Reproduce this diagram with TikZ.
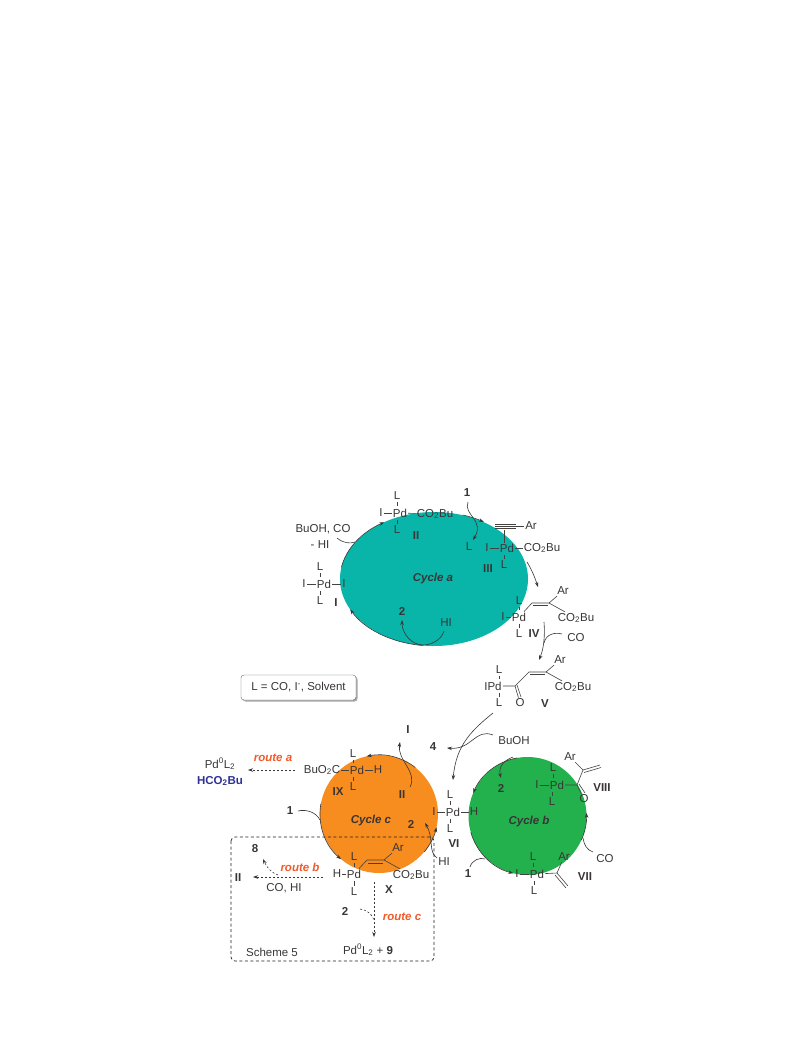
\documentclass[tikz,border=0pt]{standalone}
\usepackage{fontspec}
\setmainfont{Liberation Sans}
\usepackage{xcolor}
\usetikzlibrary{arrows.meta,shapes.geometric,shadows}
\definecolor{cyateal}{HTML}{09B4A9}
\definecolor{cycorange}{HTML}{F78D1E}
\definecolor{cycgreen}{HTML}{22B14C}
\definecolor{inkgray}{HTML}{231F20}
\definecolor{routered}{HTML}{F15A29}
\definecolor{estblue}{HTML}{2E3192}
\tikzset{
every node/.style={font=\fontsize{11.5}{13}\selectfont,inner sep=1pt,text=inkgray!90},
cmpd/.style={font=\fontsize{11.5}{13}\selectfont\bfseries},
cyclbl/.style={font=\fontsize{11.5}{13}\selectfont\bfseries\itshape},
routelbl/.style={font=\fontsize{11.5}{13}\selectfont\bfseries\itshape,text=routered},
cycfill/.style={circle,minimum size=118pt,inner sep=0pt,outer sep=0pt},
bond/.style={draw=inkgray!85,line width=0.6pt},
ticklne/.style={bond,shorten <=1pt,shorten >=1.5pt},
arw/.style={draw=inkgray!90,line width=0.6pt,-{Stealth[length=5pt,width=3.5pt]}},
plainarw/.style={draw=inkgray!90,line width=0.6pt},
dasharw/.style={arw,dashed,dash pattern=on 2pt off 2pt}
}
\begin{document}
\begin{tikzpicture}[x=1pt,y=-1pt]
\useasboundingbox (0,0) rectangle (793,1057);
\node[ellipse,fill=cyateal,minimum width=188pt,minimum height=134pt,inner sep=0pt,outer sep=0pt] (cyca) at (434,579) {};
\node[cycfill,fill=cycorange] (cycc) at (379,814) {};
\node[cycfill,fill=cycgreen] (cycb) at (527.5,816) {};
\node[cyclbl] (lblcyca) at (433,579) {Cycle a};
\node[cyclbl] (lblcycb) at (529,822) {Cycle b};
\node[cyclbl] (lblcycc) at (371,821) {Cycle c};

\node (i1) at (304,584) {I};
\node (pd1) at (324,584) {Pd};
\node (i1r) at (344,584) {I};
\node (l1a) at (320,567) {L};
\node (l1b) at (320,601) {L};
\node[cmpd] (lbl1) at (336,603) {I};
\draw[bond] (i1)--(pd1);
\draw[bond] (pd1)--(i1r);
\draw[ticklne] (l1a)--(l1a|-pd1.north);
\draw[ticklne] (l1b)--(l1b|-pd1.south);

\node (i2) at (381,513) {I};
\node (pd2) at (400,513) {Pd};
\node (co2) at (435,514) {CO\textsubscript{2}Bu};
\node (l2a) at (397,496) {L};
\node (l2b) at (397,530) {L};
\node[cmpd] (lbl2) at (416,536) {II};
\draw[bond] (i2)--(pd2);
\draw[bond] (pd2)--(co2);
\draw[ticklne] (l2a)--(l2a|-pd2.north);
\draw[ticklne] (l2b)--(l2b|-pd2.south);

\node (buoh) at (323,529) {BuOH, CO};
\node (mhi) at (320,545) {- HI};
\node[cmpd] (n1a) at (467,493) {1};
\node (arthr) at (531,526) {Ar};
\node (lfree) at (469,547) {L};
\node (i3) at (487,548) {I};
\node (pd3) at (507,548) {Pd};
\node (co3) at (542,548) {CO\textsubscript{2}Bu};
\node (l3) at (504,565) {L};
\node[cmpd] (lbl3) at (488,569) {III};
\draw (495,524) coordinate (tb1a);
\draw (516,524) coordinate (tb1b);
\draw (495,526) coordinate (tb2a);
\draw (495,528) coordinate (tb3a);
\draw (516,528) coordinate (tb3b);
\draw[bond] (tb1a)--(tb1b);
\draw[bond] (tb2a)--(arthr);
\draw[bond] (tb3a)--(tb3b);
\draw (504,530) coordinate (tbdown);
\draw[bond] (tbdown)--(tbdown|-pd3.north);
\draw[bond] (i3)--(pd3);
\draw[bond] (pd3)--(co3);
\draw[ticklne] (l3)--(l3|-pd3.south);

\node (l4a) at (519,601) {L};
\node (i4) at (503,617) {I};
\node (pd4) at (519,617) {Pd};
\node (l4b) at (519,634) {L};
\node[cmpd] (lbl4) at (534,634) {IV};
\node (ar4) at (563,591) {Ar};
\node (co4) at (576,618) {CO\textsubscript{2}Bu};
\draw (532,603) coordinate (v4a);
\draw (549,603) coordinate (v4b);
\draw (533,605.5) coordinate (v4c);
\draw (548,605.5) coordinate (v4d);
\draw[bond] (pd4)--(v4a)--(v4b)--(ar4);
\draw[bond] (v4c)--(v4d);
\draw[bond] (v4b)--(co4);
\draw[bond] (i4)--(pd4);
\draw[ticklne] (l4a)--(l4a|-pd4.north);
\draw[ticklne] (l4b)--(l4b|-pd4.south);

\node (co4g) at (576,638) {CO};
\node (lv1) at (499,670) {L};
\node (ipd5) at (493,686) {IPd};
\node (lv2) at (499,703) {L};
\node (ar5) at (560,660) {Ar};
\node (co5) at (573,687) {CO\textsubscript{2}Bu};
\node (o5) at (520,703) {O};
\node[cmpd] (lbl5) at (545,704) {V};
\draw (515,686) coordinate (c5);
\draw (529,672) coordinate (v5a);
\draw (546,672) coordinate (v5b);
\draw (530,674.5) coordinate (v5c);
\draw (545,674.5) coordinate (v5d);
\draw (517,685) coordinate (c5r);
\draw (521,697) coordinate (c5s);
\draw[bond] (ipd5)--(c5)--(v5a)--(v5b)--(ar5);
\draw[bond] (v5c)--(v5d);
\draw[bond] (v5b)--(co5);
\draw[bond] (c5)--(o5);
\draw[bond] (c5r)--(c5s);
\draw[ticklne] (lv1)--(lv1|-ipd5.north);
\draw[ticklne] (lv2)--(lv2|-ipd5.south);

\node (hi1) at (446,623) {HI};
\node[cmpd] (n2a) at (402,611) {2};
\node[draw=inkgray!70,rounded corners=3pt,fill=white,inner sep=0pt,minimum width=115pt,minimum height=25pt,drop shadow={shadow xshift=1.5pt,shadow yshift=-1.5pt,fill=gray!70,opacity=1}] (lbox) at (298.5,687.5) {L = CO, I\textsuperscript{-}, Solvent};

\node[cmpd] (lbl1b) at (408,730) {I};
\node[cmpd] (n4) at (433,747) {4};
\node (buoh2) at (514,741) {BuOH};
\node[cmpd] (n2b) at (501,788) {2};

\node (l6a) at (450,795) {L};
\node (i6) at (434,812) {I};
\node (pd6) at (453,812) {Pd};
\node (h6) at (474,812) {H};
\node (l6b) at (450,829) {L};
\node[cmpd] (lbl6) at (454,844) {VI};
\draw[bond] (i6)--(pd6);
\draw[bond] (pd6)--(h6);
\draw[ticklne] (l6a)--(l6a|-pd6.north);
\draw[ticklne] (l6b)--(l6b|-pd6.south);

\node (l8a) at (553,768) {L};
\node (i8) at (537,785) {I};
\node (pd8) at (557,785) {Pd};
\node (l8b) at (552,802) {L};
\node (o8) at (584,799) {O};
\node (ar8) at (570,757) {Ar};
\node[cmpd] (lbl8) at (602,788) {VIII};
\draw (577,785) coordinate (c8);
\draw (583,770) coordinate (v8a);
\draw (600,765) coordinate (v8b);
\draw (584,772.5) coordinate (v8c);
\draw (601,767.5) coordinate (v8d);
\draw (579,784) coordinate (c8r);
\draw (585,793) coordinate (c8s);
\draw[bond] (i8)--(pd8);
\draw[bond] (pd8)--(c8)--(v8a)--(v8b);
\draw[bond] (v8c)--(v8d);
\draw[bond] (v8a)--(ar8);
\draw[bond] (c8)--(o8);
\draw[bond] (c8r)--(c8s);
\draw[ticklne] (l8a)--(l8a|-pd8.north);
\draw[ticklne] (l8b)--(l8b|-pd8.south);

\node (co7g) at (605,859) {CO};
\node[cmpd] (n1c) at (468,874) {1};
\node (l7a) at (533,857) {L};
\node (i7) at (517,874) {I};
\node (pd7) at (537,874) {Pd};
\node (l7b) at (534,891) {L};
\node (ar7) at (564,857) {Ar};
\node[cmpd] (lbl7) at (585,877) {VII};
\draw (557,873) coordinate (v7a);
\draw (568,886) coordinate (v7b);
\draw (555,875) coordinate (v7c);
\draw (566,888) coordinate (v7d);
\draw[bond] (i7)--(pd7);
\draw[bond] (pd7)--(v7a)--(ar7);
\draw[bond] (v7a)--(v7b);
\draw[bond] (v7c)--(v7d);
\draw[ticklne] (l7a)--(l7a|-pd7.north);
\draw[ticklne] (l7b)--(l7b|-pd7.south);

\node (pd0a) at (220,764) {Pd\textsuperscript{0}L\textsubscript{2}};
\node[cmpd,text=estblue] (hco) at (220,781) {HCO\textsubscript{2}Bu};
\node[routelbl] (routea) at (273,758) {route a};
\node (bu9) at (322,770) {BuO\textsubscript{2}C};
\node (pd9) at (357,770) {Pd};
\node (h9) at (378,770) {H};
\node (l9a) at (353,754) {L};
\node (l9b) at (353,787) {L};
\node[cmpd] (lbl9) at (338,792) {IX};
\node[cmpd] (lbl2c) at (402,795) {II};
\node[cmpd] (n1b) at (290,811) {1};
\node[cmpd] (n2c) at (411,824) {2};
\draw[bond] (bu9)--(pd9);
\draw[bond] (pd9)--(h9);
\draw[ticklne] (l9a)--(l9a|-pd9.north);
\draw[ticklne] (l9b)--(l9b|-pd9.south);

\node (hi2) at (444,862) {HI};
\node[cmpd] (n8) at (255,849) {8};
\node[cmpd] (lbl2b) at (238,878) {II};
\node[routelbl] (routeb) at (300,867) {route b};
\node (cohi) at (284,888) {CO, HI};
\node (h10) at (337,874) {H};
\node (pd10) at (354,874) {Pd};
\node (l10a) at (354,857) {L};
\node (l10b) at (354,892) {L};
\node (ar10) at (398,848) {Ar};
\node (co10) at (411,875) {CO\textsubscript{2}Bu};
\node[cmpd] (lbl10) at (389,890) {X};
\node[routelbl] (routec) at (402,917) {route c};
\node[cmpd] (n2d) at (345,911) {2};
\node (pd0b) at (368,950) {Pd\textsuperscript{0}L\textsubscript{2} + \textbf{9}};
\node (sch5) at (272,952) {Scheme 5};
\draw (367,860) coordinate (v10a);
\draw (384,860) coordinate (v10b);
\draw (368,863) coordinate (v10c);
\draw (383,863) coordinate (v10d);
\draw[bond] (h10)--(pd10);
\draw[bond] (pd10)--(v10a)--(v10b)--(ar10);
\draw[bond] (v10c)--(v10d);
\draw[bond] (v10b)--(co10);
\draw[ticklne] (l10a)--(l10a|-pd10.north);
\draw[ticklne] (l10b)--(l10b|-pd10.south);

\draw (231,837) coordinate (boxa);
\draw (434,961) coordinate (boxb);
\draw[inkgray,line width=0.7pt,dashed,dash pattern=on 3pt off 2.5pt,rounded corners=4pt] (boxa) rectangle (boxb);

\draw (341.4,567.4) coordinate (aa1);
\draw (422.5,645.5) coordinate (aa3);
\draw (463,515) coordinate (aa5);
\draw[arw] (aa1) arc[start angle=170,end angle=122,x radius=94pt,y radius=67pt];
\draw[arw] (aa3) arc[start angle=263,end angle=207,x radius=94pt,y radius=67pt];
\draw[arw] (aa5) arc[start angle=72,end angle=58,x radius=94pt,y radius=67pt];
\draw (337,538) coordinate (ba1);
\draw (355,542) coordinate (ba2);
\draw[plainarw] (ba1) .. controls (343,543) and (350,544) .. (ba2);
\draw (468,502) coordinate (oa1);
\draw (473,540) coordinate (oa2);
\draw[arw] (oa1) .. controls (463,515) and (485,520) .. (oa2);
\draw (444,631) coordinate (hia1);
\draw (423,645) coordinate (hia2);
\draw (402,620) coordinate (hia3);
\draw[arw] (hia1) .. controls (441,641) and (430,645) .. (hia2) .. controls (412,645) and (402,634) .. (hia3);
\draw (527,562) coordinate (sa1);
\draw (538,587) coordinate (sa2);
\draw[arw] (sa1) .. controls (532,570) and (535,578) .. (sa2);
\draw (544,622) coordinate (sb1);
\draw (539,660) coordinate (sb2);
\draw (562,634) coordinate (sb3);
\draw (544,643) coordinate (sb4);
\draw[arw] (sb1) .. controls (545,635) and (544,648) .. (sb2);
\draw[plainarw] (sb3) .. controls (555,632) and (546,634) .. (sb4);
\draw (493,713) coordinate (sc1);
\draw (453,780) coordinate (sc2);
\draw[arw] (sc1) .. controls (472,730) and (456,745) .. (sc2);
\draw (493,735) coordinate (sd1);
\draw (447,748) coordinate (sd2);
\draw[arw] (sd1) .. controls (475,728) and (472,750) .. (sd2);
\draw (513,757) coordinate (se1);
\draw (501,778) coordinate (se2);
\draw[arw] (se1) .. controls (505,760) and (498,766) .. (se2);

\draw[arw] (cycb.100) arc[start angle=100,end angle=157,radius=59pt];
\draw[arw] (cycb.196) arc[start angle=196,end angle=256,radius=59pt];
\draw[arw] (cycb.-24) arc[start angle=-24,end angle=3,radius=59pt];
\draw (593,852) coordinate (cob1);
\draw (583,838) coordinate (cob2);
\draw[plainarw] (cob1) .. controls (587,850) and (584,845) .. (cob2);
\draw (470,867) coordinate (ob1);
\draw (485,859) coordinate (ob2);
\draw[plainarw] (ob1) .. controls (472,860) and (480,857) .. (ob2);

\draw[arw] (cycc.52) arc[start angle=52,end angle=102,radius=59pt];
\draw[arw] (cycc.170) arc[start angle=170,end angle=230,radius=59pt];
\draw[arw] (cycc.-40) arc[start angle=-40,end angle=-13,radius=59pt];
\draw (410,787) coordinate (ic1);
\draw (400,742) coordinate (ic2);
\draw[arw] (ic1) .. controls (418,772) and (397,760) .. (ic2);
\draw (298,811) coordinate (oc1);
\draw (320,820) coordinate (oc2);
\draw[plainarw] (oc1) .. controls (306,809) and (316,812) .. (oc2);
\draw (437,858) coordinate (hic1);
\draw (425,823) coordinate (hic2);
\draw[arw] (hic1) .. controls (428,852) and (434,838) .. (hic2);

\draw (295,770) coordinate (ra1);
\draw (248,770) coordinate (ra2);
\draw[dasharw] (ra1)--(ra2);
\draw (323,877) coordinate (rb1);
\draw (253,877) coordinate (rb2);
\draw[dasharw] (rb1)--(rb2);
\draw (278,875) coordinate (rb3);
\draw (263,859) coordinate (rb4);
\draw[dasharw] (rb3) .. controls (272,873) and (267,868) .. (rb4);
\draw (374,882) coordinate (rc1);
\draw (374,937) coordinate (rc2);
\draw[dasharw] (rc1)--(rc2);
\draw (360,909) coordinate (rc3);
\draw (374,920) coordinate (rc4);
\draw[inkgray!90,line width=0.6pt,dashed,dash pattern=on 2pt off 2pt] (rc3) .. controls (367,910) and (372,914) .. (rc4);
\end{tikzpicture}
\end{document}
